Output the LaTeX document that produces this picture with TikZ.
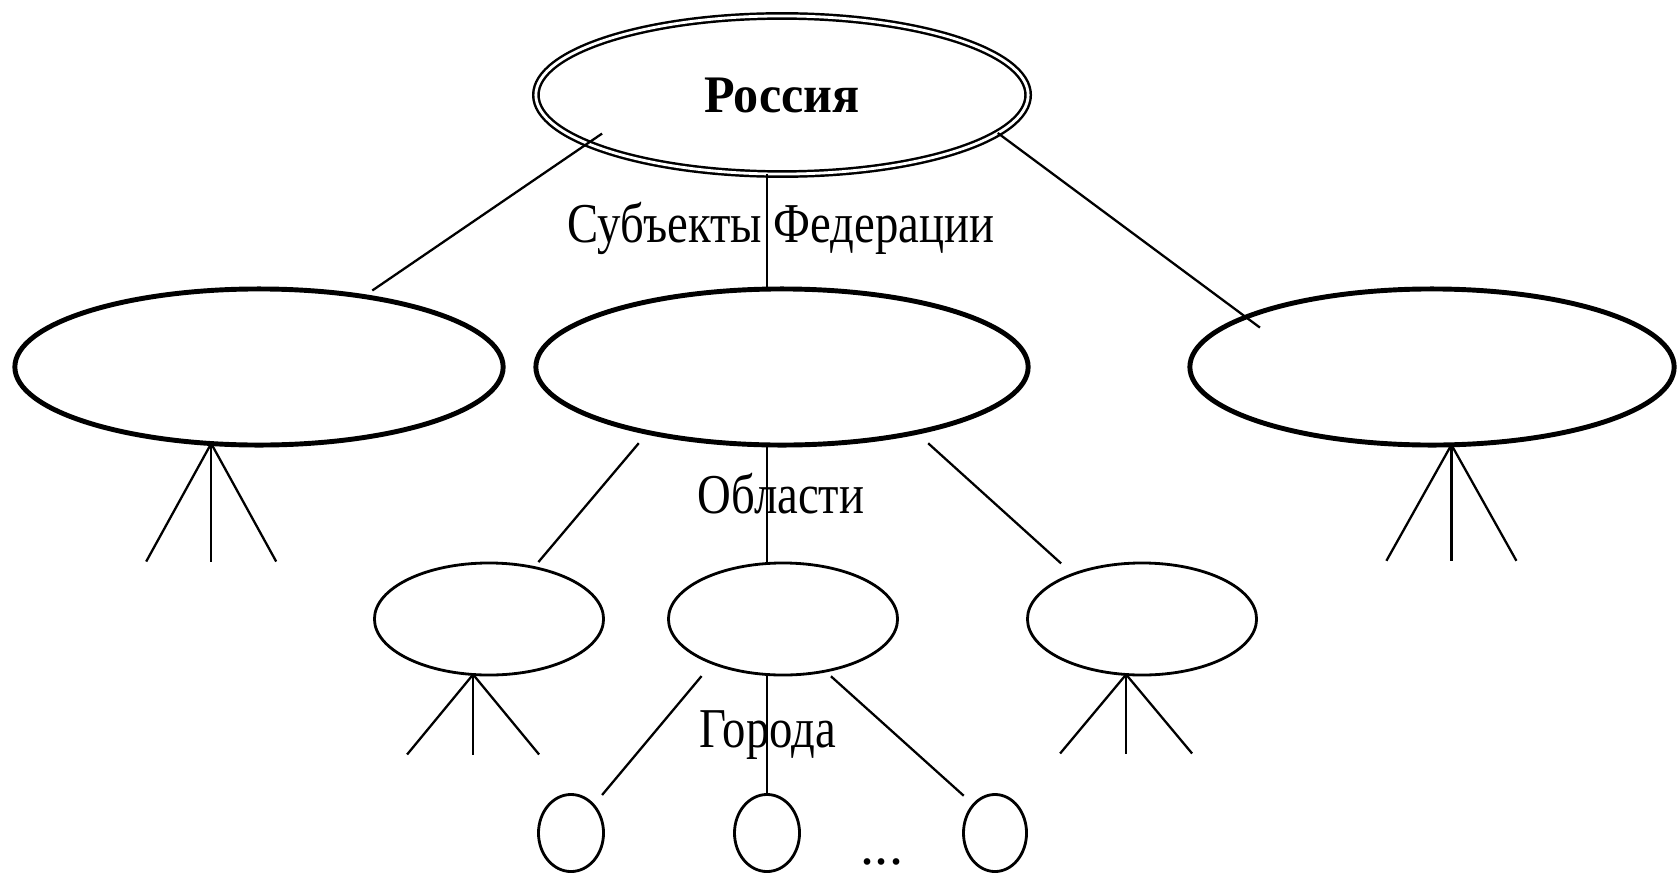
\documentclass[tikz,border=0pt]{standalone}
\usepackage{fontspec}
\setmainfont{Liberation Serif}
\usetikzlibrary{shapes.geometric}
\newcommand{\squeeze}[2][0.83]{\scalebox{#1}[1]{#2}}

\begin{document}
\begin{tikzpicture}[x=0.01cm, y=-0.01cm]
\tikzstyle{every node}+=[inner sep=0pt, outer sep=0pt]
\tikzstyle{country}=[ellipse, draw, double, line width=0.7pt, double distance=0.8pt, minimum width=4.92cm, minimum height=1.58cm]
\tikzstyle{subject}=[ellipse, draw, line width=1.4pt, minimum width=4.88cm, minimum height=1.56cm]
\tikzstyle{region}=[ellipse, draw, line width=0.8pt, minimum width=2.29cm, minimum height=1.12cm]
\tikzstyle{city}=[ellipse, draw, line width=0.8pt, minimum width=0.65cm, minimum height=0.77cm]
\tikzstyle{link}=[line width=0.65pt]
\tikzstyle{caption}=[anchor=base, font=\fontsize{16}{19}\selectfont]
\useasboundingbox (0,0) rectangle (1677,873);
\node [country, font=\fontsize{15}{18}\selectfont\bfseries] (rus) at (782,95) {\squeeze[0.95]{Россия}};
\node [subject] (subjL) at (259,367) {};
\node [subject, minimum width=4.92cm] (subjM) at (782,367) {};
\node [subject, minimum width=4.84cm] (subjR) at (1432,367) {};
\node [region] (regL) at (489,619) {};
\node [region] (regM) at (783,619) {};
\node [region] (regR) at (1142,619) {};
\node [city] (cityL) at (571,833) {};
\node [city] (cityM) at (767,833) {};
\node [city, minimum width=0.63cm] (cityR) at (995,833) {};
\draw [link, shorten <=-5pt, shorten >=3pt] (rus.194) -- (subjL.34);
\draw [link] (rus.259) -- (rus.259 |- subjM.north);
\draw [link, shorten >=-5pt] (rus.350) -- (subjR.165);
\node [caption] (lblSubj) at (781,242) {\squeeze{Субъекты Федерации}};
\draw [link, shorten <=4pt, shorten >=2pt] (subjM.206) -- (regL.49);
\draw [link] (subjM.259) -- (subjM.259 |- regM.north);
\draw [link, shorten <=4.6pt, shorten >=4.6pt] (subjM.334) -- (regR.147);
\node [caption] (lblObl) at (781,513) {\squeeze{Области}};
\draw [link, shorten <=4.8pt, shorten >=3.8pt] (regM.212) -- (cityL.51);
\draw [link] (regM.254) -- (regM.254 |- cityM.north);
\draw [link, shorten <=2.2pt, shorten >=3.8pt] (regM.309) -- (cityR.127);
\node [caption] (lblGor) at (768,747) {\squeeze{Города}};
\node [caption] (dots) at (882,864) {...};
\foreach \dx in {-65,0,65} \draw [link] (subjL.238) -- +(\dx,118);
\foreach \dx in {-65,0,65} \draw [link] (subjR.284) -- +(\dx,116);
\foreach \dx in {-66,0,66} \draw [link] (regL.254) -- +(\dx,80);
\foreach \dx in {-66,0,66} \draw [link] (regR.254) -- +(\dx,79);
\end{tikzpicture}
\end{document}
